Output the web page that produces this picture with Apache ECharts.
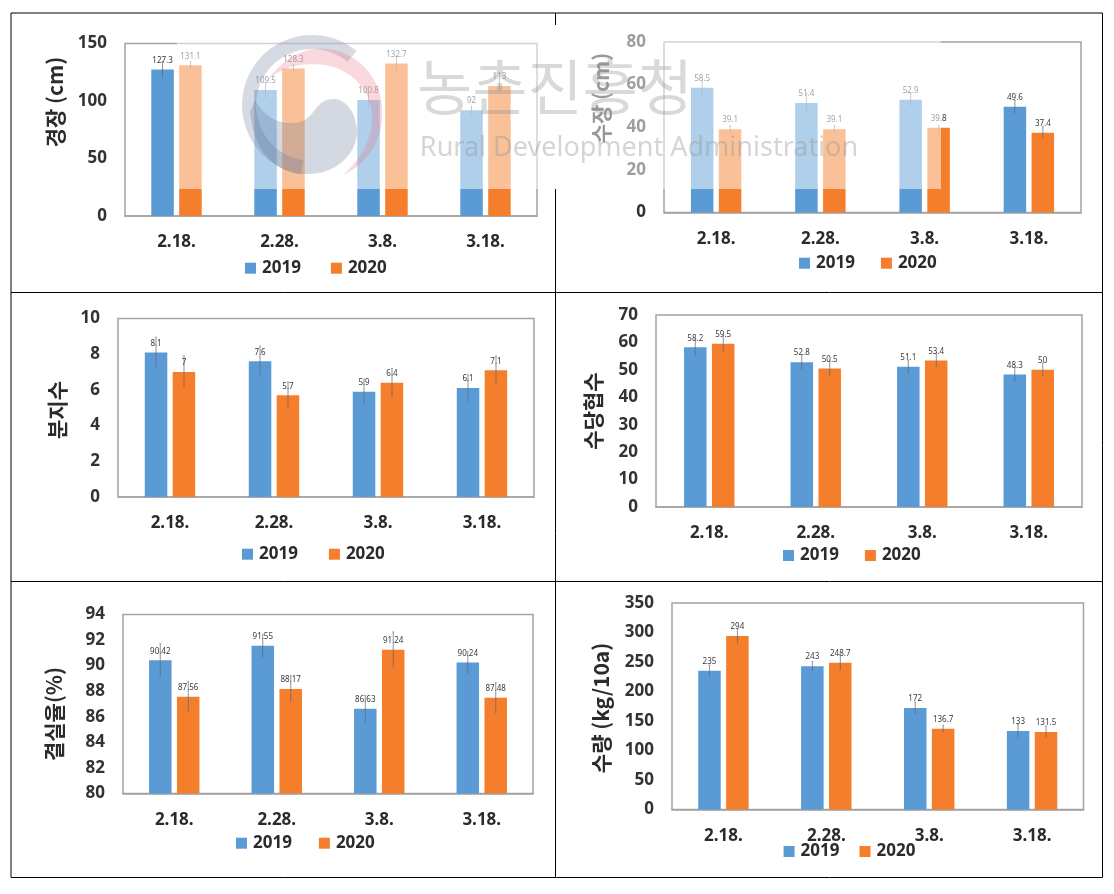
<!DOCTYPE html>
<html>
<head>
<meta charset="utf-8">
<style>html,body{margin:0;padding:0;background:#fff}#c{width:1114px;height:894px}</style>
<script src="https://cdn.jsdelivr.net/npm/echarts@6/dist/echarts.min.js"></script>
</head>
<body>
<div id="c"></div>
<script>
const categories = ['2.18.', '2.28.', '3.8.', '3.18.'];
const seriesNames = ['2019', '2020'];
const panelTitles = ['경장 (cm)', '수장 (cm)', '분지수', '수당협수', '결실율(%)', '수량 (kg/10a)'];

const stem2019 = [127.3, 109.5, 100.8, 92];
const stem2020 = [131.1, 128.3, 132.7, 113];
const stemErr2019 = [7, 7, 6, 3.5];
const stemErr2020 = [3, 3, 6, 6];

const panicle2019 = [58.5, 51.4, 52.9, 49.6];
const panicle2020 = [39.1, 39.1, 39.8, 37.4];
const panicleErr2019 = [3.6, 4.7, 3, 3];
const panicleErr2020 = [1.6, 1.6, 1, 2.8];

const branch2019 = [8.1, 7.6, 5.9, 6.1];
const branch2020 = [7, 5.7, 6.4, 7.1];
const branchErr2019 = [0.85, 0.85, 0.7, 0.75];
const branchErr2020 = [0.9, 0.75, 0.8, 0.8];

const pods2019 = [58.2, 52.8, 51.1, 48.3];
const pods2020 = [59.5, 50.5, 53.4, 50];
const podsErr2019 = [3, 2.7, 2.5, 2.7];
const podsErr2020 = [3, 2.7, 2.5, 2.5];

const fruit2019 = [90.42, 91.55, 86.63, 90.24];
const fruit2020 = [87.56, 88.17, 91.24, 87.48];
const fruitErr2019 = [1.3, 0.9, 1.05, 0.85];
const fruitErr2020 = [1.2, 1.05, 1.4, 1.2];

const yield2019 = [235, 243, 172, 133];
const yield2020 = [294, 248.7, 136.7, 131.5];
const yieldErr2019 = [10, 8, 10, 11];
const yieldErr2020 = [13, 13, 6, 10];

const yMin = [0, 0, 0, 0, 80, 0];
const yMax = [150, 80, 10, 70, 94, 350];
const yStep = [50, 20, 2, 10, 2, 50];

const values2019 = [stem2019, panicle2019, branch2019, pods2019, fruit2019, yield2019];
const values2020 = [stem2020, panicle2020, branch2020, pods2020, fruit2020, yield2020];
const errors2019 = [stemErr2019, panicleErr2019, branchErr2019, podsErr2019, fruitErr2019, yieldErr2019];
const errors2020 = [stemErr2020, panicleErr2020, branchErr2020, podsErr2020, fruitErr2020, yieldErr2020];

// layout (pixels on the page)
const plots = [
  {l:125, r:537, t:43.5, b:216, titleX:55, titleY:102, legX:245, legY:266.7, legGap:30},
  {l:664, r:1081, t:42, b:212.5, titleX:601, titleY:98, legX:799, legY:261.7, legGap:26},
  {l:118, r:534, t:318.5, b:497, titleX:57, titleY:410, legX:242, legY:552.7, legGap:31},
  {l:656, r:1082, t:315, b:507, titleX:593, titleY:411, legX:783, legY:554, legGap:26},
  {l:123, r:533, t:614.5, b:793.5, titleX:54, titleY:714, legX:236, legY:841.7, legGap:27},
  {l:672, r:1083.5, t:603, b:809.5, titleX:601, titleY:708, legX:783.6, legY:850, legGap:20}
];
const FONT = '"Noto Sans","Noto Sans CJK KR",sans-serif';
const BLUE = '#5B9BD5', ORANGE = '#F47E2B';
const BAR_W = 22.5, BAR_OFFSET = 14;

echarts.graphic.registerShape('logoBlob', echarts.graphic.extendPath('M250,112 C255,165 290,175 305,174 C340,175 358,150 357,130 C355,105 340,98 332,99 C315,100 315,118 300,122 C280,126 265,118 255,100 Z'));
echarts.graphic.registerShape('logoCrescent', echarts.graphic.extendPath('M268,80 C285,55 310,44 335,50 C365,58 385,85 382,120 C380,145 365,165 343,175 C360,160 372,140 372,118 C372,90 352,70 325,65 C300,62 280,68 268,80 Z'));

function errSeries(p, vals, errs, sign, name) {
  return {
    type: 'custom', name: name, xAxisIndex: p, yAxisIndex: p, silent: true, z: 3,
    data: vals.map((v, i) => [i, v - errs[i], v + errs[i]]),
    encode: {x: 0, y: [1, 2]},
    renderItem: function (params, api) {
      const lo = api.coord([api.value(0), api.value(1)]);
      const hi = api.coord([api.value(0), api.value(2)]);
      const x = lo[0] + sign * BAR_OFFSET;
      return {type: 'group', children: [
        {type: 'line', shape: {x1: x, y1: lo[1], x2: x, y2: hi[1]}, style: {stroke: '#5f6670', lineWidth: 0.7}},
        {type: 'line', shape: {x1: x - 1, y1: hi[1], x2: x + 1, y2: hi[1]}, style: {stroke: '#5f6670', lineWidth: 0.5}}
      ]};
    }
  };
}

const grid = [], xAxis = [], yAxis = [], series = [], legend = [], graphic = [];
plots.forEach((g, p) => {
  grid.push({left: g.l, top: g.t, width: g.r - g.l, height: g.b - g.t, show: true,
    backgroundColor: 'transparent', borderColor: '#a3a3a3', borderWidth: 1.5});
  xAxis.push({type: 'category', gridIndex: p, data: categories,
    axisTick: {show: false}, axisLine: {lineStyle: {color: '#a3a3a3', width: 1.5}},
    axisLabel: {margin: 18, fontFamily: FONT, fontWeight: 'bold', fontSize: 17, color: '#2b2b2b'}});
  yAxis.push({type: 'value', gridIndex: p, min: yMin[p], max: yMax[p], interval: yStep[p],
    splitLine: {show: false}, axisTick: {show: false}, axisLine: {show: false},
    axisLabel: {margin: 18, fontFamily: FONT, fontWeight: 'bold', fontSize: 17, color: '#333'}});
  const label = {show: true, position: 'top', distance: 5, fontSize: 8, fontFamily: FONT, color: '#3a3a3a'};
  series.push({type: 'bar', name: seriesNames[0], xAxisIndex: p, yAxisIndex: p, data: values2019[p],
    barWidth: BAR_W, barGap: '24%', itemStyle: {color: BLUE}, label: label});
  series.push({type: 'bar', name: seriesNames[1], xAxisIndex: p, yAxisIndex: p, data: values2020[p],
    barWidth: BAR_W, barGap: '24%', itemStyle: {color: ORANGE}, label: label});
  series.push(errSeries(p, values2019[p], errors2019[p], -1, 'err2019-' + p));
  series.push(errSeries(p, values2020[p], errors2020[p], 1, 'err2020-' + p));
  legend.push({left: g.legX, top: g.legY - 7, data: seriesNames, icon: 'rect', itemWidth: 11, itemHeight: 11,
    itemGap: g.legGap, selectedMode: false, padding: 0,
    textStyle: {fontFamily: FONT, fontWeight: 'bold', fontSize: 17, color: '#2b2b2b', padding: [0, 0, 0, 1]}});
  graphic.push({type: 'text', x: g.titleX, y: g.titleY, rotation: Math.PI / 2, z: 50,
    style: {text: panelTitles[p], fontFamily: '"Noto Sans CJK KR",sans-serif', fontWeight: 'bold', fontSize: 21,
      fill: '#2b2b2b', textAlign: 'center', textVerticalAlign: 'middle'}});
});

// panel frame
const frame = [[11,13,1102.5,13],[11,292.5,1102.5,292.5],[11,581.5,1102.5,581.5],[11,877.5,1102.5,877.5],
  [11,13,11,877.5],[1102.5,13,1102.5,877.5],[555.5,13,555.5,25],[555.5,189,555.5,877.5]];
frame.forEach(f => graphic.push({type: 'line', z: 60, shape: {x1: f[0], y1: f[1], x2: f[2], y2: f[3]},
  style: {stroke: '#000', lineWidth: 1}}));

// wash-out panel and watermark laid over the top row
graphic.push({type: 'rect', z: 100, shape: {x: 177, y: 25, width: 764, height: 164}, style: {fill: 'rgba(255,255,255,0.52)'}});
graphic.push({type: 'sector', z: 101, shape: {cx: 312, cy: 105, r: 70, r0: 56, startAngle: Math.PI * 0.55, endAngle: Math.PI * 1.72, clockwise: true},
  style: {fill: 'rgba(95,115,145,0.26)'}});
graphic.push({type: 'logoBlob', z: 101, style: {fill: 'rgba(95,115,145,0.27)'}});
graphic.push({type: 'logoCrescent', z: 101, style: {fill: 'rgba(235,115,135,0.28)'}});
graphic.push({type: 'text', z: 102, x: 555, y: 87, style: {text: '농촌진흥청', fontFamily: '"Noto Sans CJK KR",sans-serif', fontSize: 60,
  fill: 'rgba(140,140,140,0.33)', textAlign: 'center', textVerticalAlign: 'middle'}});
graphic.push({type: 'text', z: 102, x: 639, y: 148, style: {text: 'Rural Development Administration', fontFamily: FONT, fontSize: 27,
  fill: 'rgba(150,150,150,0.4)', textAlign: 'center', textVerticalAlign: 'middle'}});

const chart = echarts.init(document.getElementById('c'), null, {renderer: 'canvas'});
chart.setOption({animation: false, backgroundColor: '#fff', grid, xAxis, yAxis, series, legend, graphic});
</script>
</body>
</html>
